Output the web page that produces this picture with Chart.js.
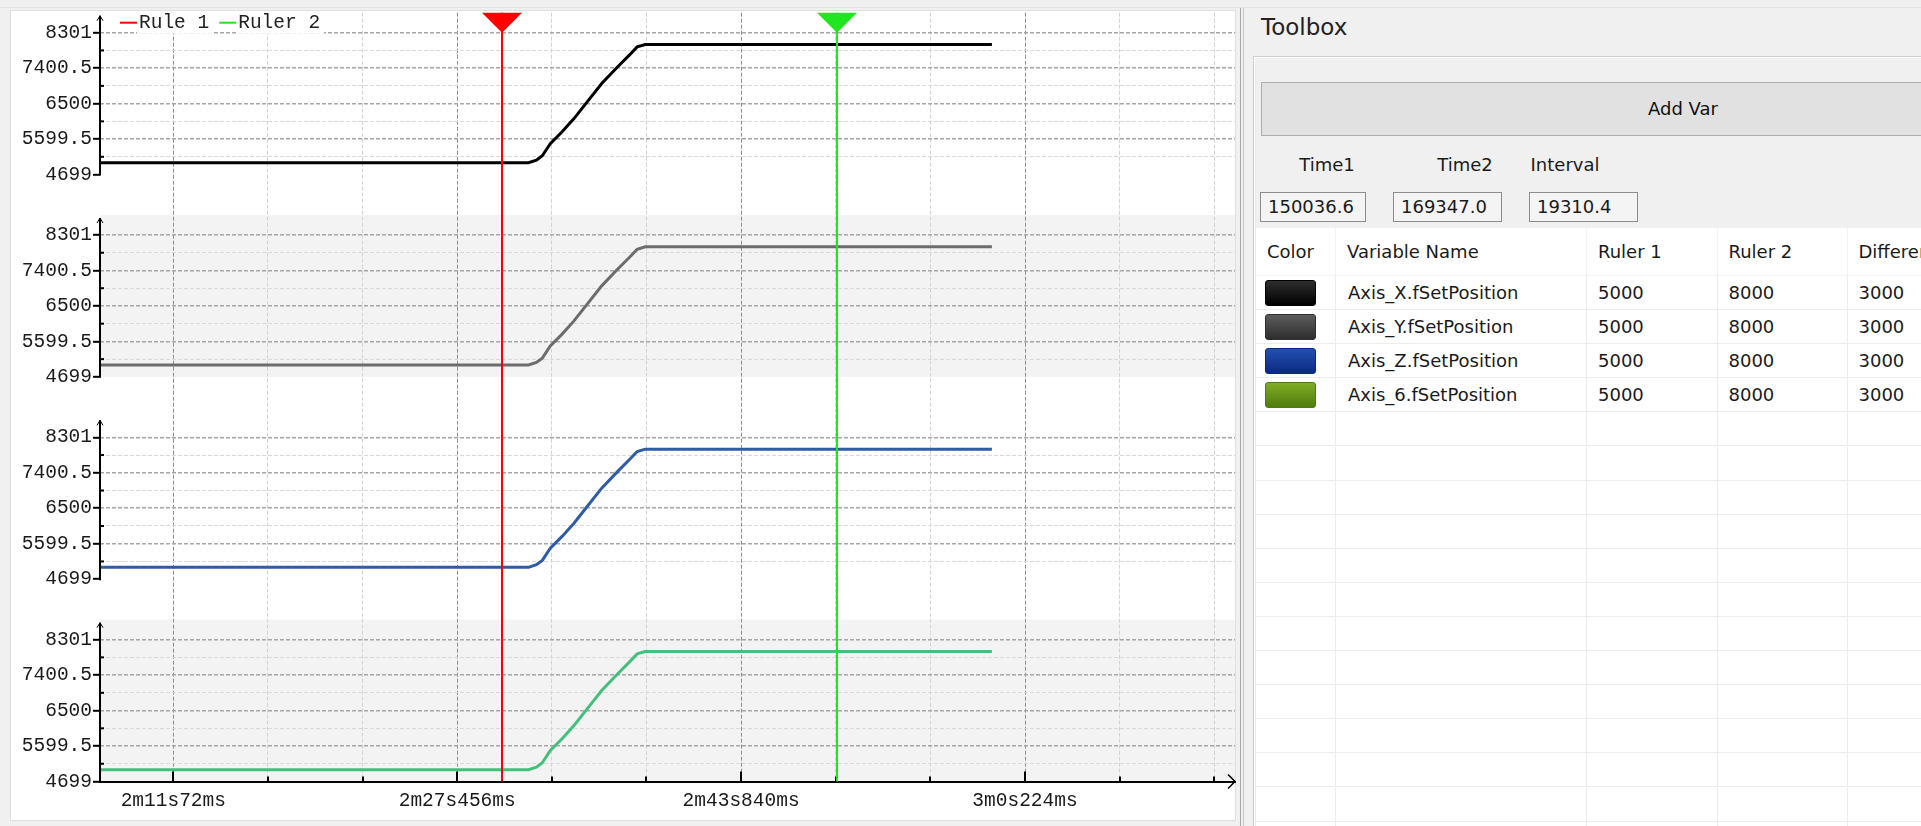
<!DOCTYPE html>
<html>
<head>
<meta charset="utf-8">
<script src="https://cdn.jsdelivr.net/npm/chart.js@4.4.1/dist/chart.umd.min.js"></script>
<style>
    body { margin: 0; width: 1921px; height: 826px; overflow: hidden; background: #f0f0f0; position: relative; font-family: "DejaVu Sans", sans-serif; color: #1a1a1a; }
    #top_line { position: absolute; left: 0; top: 7px; width: 1921px; height: 1px; background: #e2e2e2; }
    #plot_box { position: absolute; left: 10px; top: 10px; width: 1224px; height: 809px; background: #fff; border: 1px solid #e0e0e0; }
    #myChart { position: absolute; left: 0; top: 0; }
    .split { position: absolute; top: 8px; width: 1px; height: 818px; background: #a8a8a8; }
    #tb_title { position: absolute; left: 1261px; top: 12px; font-size: 23px; line-height: 30px; color: #222; }
    #group_box { position: absolute; left: 1253px; top: 56px; width: 700px; height: 800px; border: 1px solid #d0d0d0; box-shadow: inset 1px 1px 0 #fff; }
    #btn_add { position: absolute; left: 1261px; top: 82px; width: 842px; height: 52px; background: #e1e1e1; border: 1px solid #adadad; font-size: 18px; line-height: 52px; text-align: center; color: #111; }
    .tlabel { position: absolute; top: 152px; width: 110px; text-align: center; font-size: 18px; line-height: 26px; }
    .tbox { position: absolute; top: 192px; height: 28px; border: 1px solid #8c8c8c; background: #f4f4f4; font-size: 18px; line-height: 28px; padding-left: 7px; box-sizing: border-box; height: 30px; }
    #table_box { position: absolute; left: 1256px; top: 228px; width: 700px; height: 620px; background: #fff; }
    .cell { position: absolute; box-sizing: border-box; border-right: 1px solid #ececec; border-bottom: 1px solid #ececec; font-size: 18px; white-space: nowrap; overflow: hidden; }
    .swatch { position: absolute; left: 9px; width: 51px; height: 26px; border-radius: 3px; box-sizing: border-box; }
</style>
</head>
<body>
<div id="top_line"></div>
<div id="plot_box"></div>
<canvas id="myChart" width="1240" height="826"></canvas>
<div class="split" style="left:1240px"></div>
<div class="split" style="left:1243px;background:#c8c8c8"></div>
<div id="tb_title">Toolbox</div>
<div id="group_box"></div>
<div id="btn_add">Add Var</div>
<div class="tlabel" style="left:1272px">Time1</div>
<div class="tlabel" style="left:1410px">Time2</div>
<div class="tlabel" style="left:1510px">Interval</div>
<div class="tbox" id="time1_box" style="left:1260px;width:106px"></div>
<div class="tbox" id="time2_box" style="left:1393px;width:109px"></div>
<div class="tbox" id="interval_box" style="left:1529px;width:109px"></div>
<div id="table_box"></div>
<script>
// czas w ms
const timeMs = [126800, 151571, 152027, 152367, 152829, 153510, 154196, 154878, 155795, 156707, 157388, 157844, 158305, 178314];
const axisX = [5000, 5000, 5065, 5175, 5485, 5785, 6120, 6500, 7010, 7430, 7730, 7940, 8000, 8000];
const axisY = [5000, 5000, 5065, 5175, 5485, 5785, 6120, 6500, 7010, 7430, 7730, 7940, 8000, 8000];
const axisZ = [5000, 5000, 5065, 5175, 5485, 5785, 6120, 6500, 7010, 7430, 7730, 7940, 8000, 8000];
const axis6 = [5000, 5000, 5065, 5175, 5485, 5785, 6120, 6500, 7010, 7430, 7730, 7940, 8000, 8000];

const varNames = ['Axis_X.fSetPosition', 'Axis_Y.fSetPosition', 'Axis_Z.fSetPosition', 'Axis_6.fSetPosition'];
const lineColors = ['#000000', '#6c6c6c', '#2f5ca6', '#46bf7d'];
const swatchColors = [['#2e2e2e', '#000000'], ['#5c5c5c', '#2e2e2e'], ['#2450b0', '#0a2a82'], ['#80ad24', '#4f7c0c']];
const ruler1Vals = [5000, 5000, 5000, 5000];
const ruler2Vals = [8000, 8000, 8000, 8000];

const yTicks = [4699, 5599.5, 6500, 7400.5, 8301];
const yTickLabels = ['4699', '5599.5', '6500', '7400.5', '8301'];
const yMinorTicks = [5149.25, 6049.75, 6950.25, 7850.75];

const xTicks = [131072, 147456, 163840, 180224];
const xTickLabels = ['2m11s72ms', '2m27s456ms', '2m43s840ms', '3m0s224ms'];
const xMinorTicks = [136533, 141995, 152917, 158379, 169301, 174763, 185685, 191147];

const rulerNames = ['Rule 1', 'Ruler 2'];
const rulerTimes = [150036.6, 169347.0];
const rulerColors = ['#ff0000', '#1fe61f'];

const monoFont = '"Liberation Mono", monospace';

function panelScale(k) {
    let last = k == 3;
    return {
        type: 'linear',
        position: 'left',
        stack: 'panels',
        stackWeight: last ? 162 : 202.5,
        weight: 4 - k,
        min: last ? 4699 : 3671.7,
        max: 8808.3,
        afterFit: s => { s.width = 90; },
        afterBuildTicks: s => {
            s.ticks = yTicks.concat(yMinorTicks).sort((a, b) => a - b).map(v => ({value: v}));
        },
        ticks: {
            autoSkip: false,
            padding: 1,
            color: '#1a1a1a',
            font: {family: monoFont, size: 19.5},
            callback: v => {
                let i = yTicks.indexOf(v);
                return i < 0 ? '' : yTickLabels[i];
            }
        },
        grid: {
            color: c => {
                let v = c.tick ? c.tick.value : 0;
                if (v == yTicks[0]) return 'rgba(0,0,0,0)';
                return yTicks.includes(v) ? '#a6a6a6' : '#d9d9d9';
            },
            lineWidth: c => (c.tick && yTicks.includes(c.tick.value)) ? 1.6 : 1,
            tickLength: 7,
            tickWidth: 2,
            tickColor: c => (c.tick && yTicks.includes(c.tick.value)) ? '#000' : 'rgba(0,0,0,0)'
        },
        border: {display: false, dash: [4, 2]}
    };
}

const panelDeco = {
    id: 'panelDeco',
    beforeDraw(chart) {
        let ctx = chart.ctx, a = chart.chartArea;
        ctx.save();
        ctx.fillStyle = '#f3f3f3';
        ['y2', 'y4'].forEach(id => {
            let s = chart.scales[id];
            let yb = s.getPixelForValue(yTicks[0]);
            ctx.fillRect(a.left, s.top, a.right - a.left, yb - s.top);
        });
        ctx.restore();
    },
    afterDraw(chart) {
        let ctx = chart.ctx, a = chart.chartArea, xs = chart.scales.x;
        ctx.save();
        ctx.setLineDash([]);
        ctx.strokeStyle = '#000';
        // osie y
        ['y1', 'y2', 'y3', 'y4'].forEach(id => {
            let s = chart.scales[id];
            let yb = s.getPixelForValue(yTicks[0]);
            ctx.lineWidth = 2;
            ctx.beginPath();
            ctx.moveTo(a.left, s.top + 3);
            ctx.lineTo(a.left, yb + 1);
            ctx.stroke();
            ctx.lineWidth = 1;
            ctx.beginPath();
            ctx.moveTo(a.left - 3, s.top + 8);
            ctx.lineTo(a.left, s.top + 3);
            ctx.lineTo(a.left + 3, s.top + 8);
            ctx.stroke();
            ctx.lineWidth = 2;
            yMinorTicks.forEach(v => {
                let py = s.getPixelForValue(v);
                ctx.beginPath();
                ctx.moveTo(a.left, py);
                ctx.lineTo(a.left + 4, py);
                ctx.stroke();
            });
        });
        // os x: kreski i strzalka
        ctx.lineWidth = 2;
        xTicks.concat(xMinorTicks).forEach(t => {
            let px = Math.round(xs.getPixelForValue(t));
            let len = xTicks.includes(t) ? 10 : 5;
            ctx.beginPath();
            ctx.moveTo(px, a.bottom);
            ctx.lineTo(px, a.bottom - len);
            ctx.stroke();
        });
        ctx.lineWidth = 1.5;
        ctx.beginPath();
        ctx.moveTo(a.right - 7, a.bottom - 7);
        ctx.lineTo(a.right, a.bottom);
        ctx.lineTo(a.right - 7, a.bottom + 7);
        ctx.stroke();
        // linijki
        rulerTimes.forEach((t, i) => {
            let px = Math.round(xs.getPixelForValue(t));
            ctx.strokeStyle = rulerColors[i];
            ctx.lineWidth = 2;
            ctx.beginPath();
            ctx.moveTo(px, a.top);
            ctx.lineTo(px, a.bottom);
            ctx.stroke();
            ctx.fillStyle = rulerColors[i];
            ctx.beginPath();
            ctx.moveTo(px - 20, a.top);
            ctx.lineTo(px + 20, a.top);
            ctx.lineTo(px, a.top + 20);
            ctx.closePath();
            ctx.fill();
        });
        // legenda
        ctx.font = '19.5px ' + monoFont;
        ctx.textBaseline = 'middle';
        let lx = a.left + 20, ly = a.top + 10;
        rulerNames.forEach((name, i) => {
            ctx.strokeStyle = rulerColors[i];
            ctx.lineWidth = 2;
            ctx.beginPath();
            ctx.moveTo(lx, ly);
            ctx.lineTo(lx + 17, ly);
            ctx.stroke();
            let w = ctx.measureText(name).width;
            ctx.fillStyle = '#fff';
            ctx.fillRect(lx + 17, a.top, w + 6, 21);
            ctx.fillStyle = '#222';
            ctx.fillText(name, lx + 19, ly);
            lx += 17 + w + 12;
        });
        ctx.restore();
    }
};

function load_chart() {
    let ctx = document.getElementById('myChart').getContext('2d');
    let series = [axisX, axisY, axisZ, axis6];
    let scales = {
        x: {
            type: 'linear',
            min: 126842,
            max: 192343,
            afterFit: s => { s.height = 38; },
            afterBuildTicks: s => {
                s.ticks = xTicks.concat(xMinorTicks).sort((a, b) => a - b).map(v => ({value: v}));
            },
            ticks: {
                autoSkip: false,
                maxRotation: 0,
                padding: 8,
                color: '#1a1a1a',
                font: {family: monoFont, size: 19.5},
                callback: v => {
                    let i = xTicks.indexOf(v);
                    return i < 0 ? '' : xTickLabels[i];
                }
            },
            grid: {
                color: c => (c.tick && xTicks.includes(c.tick.value)) ? '#8c8c8c' : '#d2d2d2',
                drawTicks: false
            },
            border: {display: true, color: '#000', width: 2, dash: [4, 2]}
        }
    };
    for (let k = 0; k < 4; k++) scales['y' + (k + 1)] = panelScale(k);

    new Chart(ctx, {
        type: 'line',
        data: {
            datasets: series.map((vals, k) => ({
                label: varNames[k],
                data: timeMs.map((t, i) => ({x: t, y: vals[i]})),
                borderColor: lineColors[k],
                borderWidth: 3,
                pointRadius: 0,
                tension: 0,
                xAxisID: 'x',
                yAxisID: 'y' + (k + 1)
            }))
        },
        options: {
            responsive: false,
            animation: false,
            devicePixelRatio: 1,
            layout: {padding: {left: 10, right: 5, top: 12, bottom: 6.5}},
            plugins: {legend: {display: false}, tooltip: {enabled: false}},
            scales: scales
        },
        plugins: [panelDeco]
    });
}

function load_toolbox() {
    document.getElementById('time1_box').textContent = rulerTimes[0].toFixed(1);
    document.getElementById('time2_box').textContent = rulerTimes[1].toFixed(1);
    document.getElementById('interval_box').textContent = (rulerTimes[1] - rulerTimes[0]).toFixed(1);

    let box = document.getElementById('table_box');
    let colX = [0, 80, 331, 461.5, 591.5, 700];
    let headers = ['Color', 'Variable Name', 'Ruler 1', 'Ruler 2', 'Difference'];
    let html = '';
    for (let c = 0; c < 5; c++) {
        html += '<div class="cell" style="left:' + colX[c] + 'px;top:0;width:' + (colX[c + 1] - colX[c]) + 'px;height:48px;line-height:48px;padding-left:11px;border-bottom:1px solid #f3f3f3;border-right-color:#f3f3f3">' + headers[c] + '</div>';
    }
    for (let r = 0; r < 17; r++) {
        let top = 48 + r * 34.1;
        for (let c = 0; c < 5; c++) {
            let txt = '';
            if (r < varNames.length) {
                if (c == 0) {
                    let g = swatchColors[r];
                    txt = '<div class="swatch" style="top:3.5px;background:linear-gradient(' + g[0] + ',' + g[1] + ');border:1px solid ' + g[1] + '"></div>';
                }
                if (c == 1) txt = varNames[r];
                if (c == 2) txt = ruler1Vals[r];
                if (c == 3) txt = ruler2Vals[r];
                if (c == 4) txt = ruler2Vals[r] - ruler1Vals[r];
            }
            html += '<div class="cell" style="left:' + colX[c] + 'px;top:' + top + 'px;width:' + (colX[c + 1] - colX[c]) + 'px;height:34.1px;line-height:34px;padding-left:' + (c == 1 ? 12 : 11) + 'px">' + txt + '</div>';
        }
    }
    box.innerHTML = html;
}

load_toolbox();
load_chart();
</script>
</body>
</html>
